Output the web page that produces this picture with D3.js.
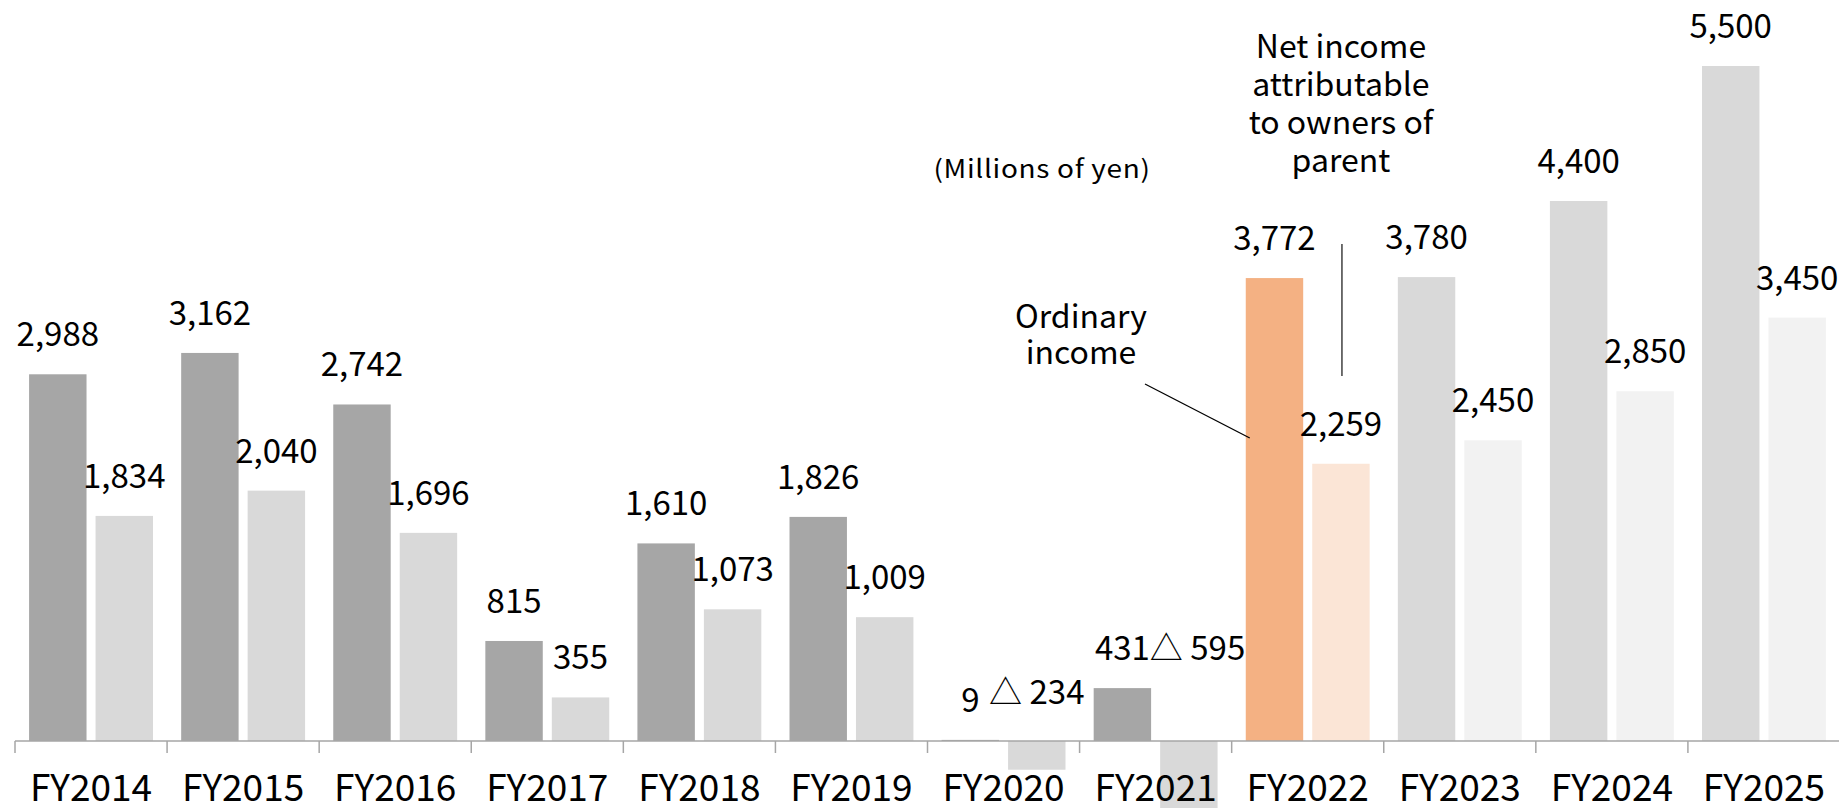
<!DOCTYPE html>
<html>
<head>
<meta charset="utf-8">
<script src="https://cdn.jsdelivr.net/npm/d3@7"></script>
<style>
  html, body { margin: 0; padding: 0; background: #ffffff; }
  svg { display: block; font-family: "Noto Sans CJK JP", "Noto Sans", sans-serif; font-weight: 400; }
</style>
</head>
<body>
<svg id="chart" width="1839" height="808"></svg>
<script>
// Fiscal years and results (millions of yen); FY2023–FY2025 are plan figures
const years = ["FY2014", "FY2015", "FY2016", "FY2017", "FY2018", "FY2019",
               "FY2020", "FY2021", "FY2022", "FY2023", "FY2024", "FY2025"];
const ordinaryIncome = [2988, 3162, 2742, 815, 1610, 1826, 9, 431, 3772, 3780, 4400, 5500];
const netIncome = [1834, 2040, 1696, 355, 1073, 1009, -234, -595, 2259, 2450, 2850, 3450];
const seriesKeys = ["ordinary", "net"];
const highlightYear = "FY2022";
const planYears = ["FY2023", "FY2024", "FY2025"];

const W = 1839, H = 808;
const svg = d3.select("#chart");

const x = d3.scaleBand().domain(years).range([15, 1840]).padding(0);
const inner = d3.scaleBand().domain(seriesKeys).range([0, x.bandwidth()])
  .paddingInner(0.136).paddingOuter(0.212);
const y = d3.scaleLinear().domain([0, 5500]).range([741, 66]);
const y0 = y(0);

function barColor(year, key) {
  if (year === highlightYear) return key === "ordinary" ? "#f4b183" : "#fbe5d6";
  if (planYears.includes(year)) return key === "ordinary" ? "#d9d9d9" : "#f2f2f2";
  return key === "ordinary" ? "#a6a6a6" : "#d9d9d9";
}

// text helper: places a label at (cx, cy) with optional horizontal scale
function label(parent, cx, cy, str, size, anchor = "middle", sx = 1) {
  return parent.append("text")
    .attr("transform", `translate(${cx},${cy}) scale(${sx},1)`)
    .attr("text-anchor", anchor)
    .attr("font-size", size)
    .attr("fill", "#000")
    .text(str);
}

const rows = years.map((yr, i) => ({ year: yr, ordinary: ordinaryIncome[i], net: netIncome[i] }));
const cells = rows.flatMap(r => seriesKeys.map(k => ({ year: r.year, key: k, value: r[k] })));

// bars
svg.append("g").selectAll("rect").data(cells).join("rect")
  .attr("x", d => x(d.year) + inner(d.key))
  .attr("width", inner.bandwidth())
  .attr("y", d => Math.min(y(d.value), y0))
  .attr("height", d => Math.abs(y(d.value) - y0))
  .attr("fill", d => barColor(d.year, d.key));

// category axis: baseline, boundary ticks, year labels
const axis = svg.append("g");
axis.append("line")
  .attr("x1", x.range()[0]).attr("x2", W)
  .attr("y1", y0).attr("y2", y0)
  .attr("stroke", "#a6a6a6").attr("stroke-width", 1.5);
axis.selectAll("line.tick").data(years).join("line")
  .attr("class", "tick")
  .attr("x1", d => x(d)).attr("x2", d => x(d))
  .attr("y1", y0).attr("y2", y0 + 12)
  .attr("stroke", "#a6a6a6").attr("stroke-width", 1.5);
years.forEach(yr => label(axis, x(yr) + x.bandwidth() / 2, 801, yr, 37));

// value labels
const fmt = d3.format(",");
const labelText = v => v < 0 ? "△ " + fmt(-v) : fmt(v);
const labels = svg.append("g");
rows.forEach(r => {
  const cxOrd = x(r.year) + inner("ordinary") + inner.bandwidth() / 2;
  const cxNet = x(r.year) + inner("net") + inner.bandwidth() / 2;
  const ordY = y(r.ordinary) - 28;
  const ordLabel = label(labels, cxOrd, ordY, labelText(r.ordinary), 33);
  if (r.net >= 0) {
    label(labels, cxNet, y(r.net) - 28, labelText(r.net), 33);
  } else {
    // losses sit above the baseline, kept clear of the ordinary-income label
    const ly = Math.min(y0 - 37, ordY);
    const t = label(labels, 0, ly, labelText(r.net), 33, "start");
    const w = t.node().getComputedTextLength();
    const ordEnd = cxOrd + ordLabel.node().getComputedTextLength() / 2;
    const lx = Math.max(cxNet - w / 2, ordEnd);
    t.attr("transform", `translate(${lx},${ly})`);
  }
});

// annotations
const ann = svg.append("g");
label(ann, 1042, 178, "(Millions of yen)", 25, "middle", 1.12).attr("letter-spacing", 0.6);

const netCx = x(highlightYear) + inner("net") + inner.bandwidth() / 2;
const ordX = x(highlightYear) + inner("ordinary");
["Net income", "attributable", "to owners of", "parent"]
  .forEach((s, i) => label(ann, netCx, 58 + i * 38, s, 32));
["Ordinary", "income"]
  .forEach((s, i) => label(ann, 1081, 328 + i * 36, s, 32));

svg.append("line")
  .attr("x1", netCx + 1).attr("x2", netCx + 1)
  .attr("y1", 244).attr("y2", 376)
  .attr("stroke", "#404040").attr("stroke-width", 1.5);
svg.append("line")
  .attr("x1", 1145).attr("y1", 384)
  .attr("x2", ordX + 4).attr("y2", 438)
  .attr("stroke", "#000").attr("stroke-width", 1.3);
</script>
</body>
</html>
